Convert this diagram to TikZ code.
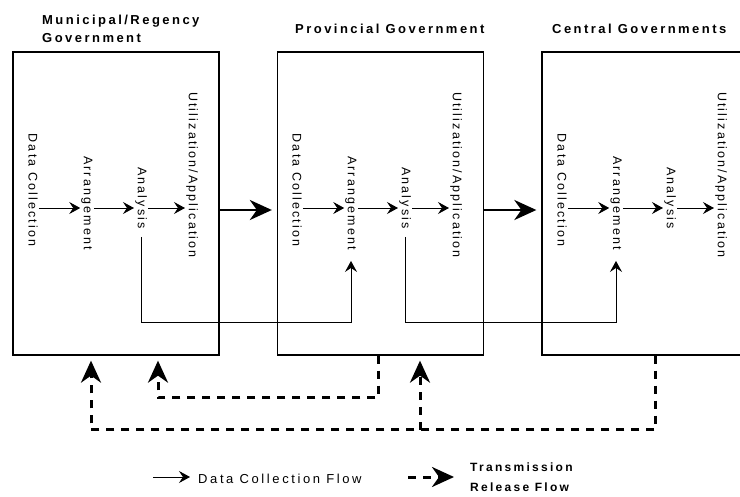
\documentclass[tikz,border=0pt]{standalone}
\usepackage{fontspec}
\setmainfont{Liberation Sans}
\newfontfamily\lblfont[LetterSpace=17]{Liberation Sans}
\newfontfamily\headfont[LetterSpace=19]{Liberation Sans}
\newfontfamily\legfont[LetterSpace=20]{Liberation Sans}
\usetikzlibrary{arrows.meta}

\begin{document}
\begin{tikzpicture}[x=1pt, y=-1pt,
    govbox/.style={draw, line width=1.3pt, minimum width=206pt, minimum height=303pt, inner sep=0pt},
    head/.style={font=\headfont\bfseries\fontsize{13}{18}\selectfont, align=left, inner sep=0pt},
    stage/.style={rotate=-90, font=\lblfont\fontsize{12.5}{12.5}\selectfont, inner sep=1pt},
    flow/.style={-{Stealth[length=11pt, width=12pt, inset=4pt]}, line width=0.8pt},
    bigflow/.style={-{Stealth[length=22pt, width=20pt, inset=7pt]}, line width=2.8pt},
    release/.style={-{Stealth[length=22pt, width=20pt, inset=7pt]}, line width=3pt, dash pattern=on 8pt off 7pt}]
    \useasboundingbox (0,0) rectangle (740,497);
    \clip (0,0) rectangle (740,497);

    % Ba cap chinh quyen
    \node[govbox] (mun)  at (116,203.5) {};
    \node[govbox] (prov) at (380.5,203.5) {};
    \node[govbox] (cen)  at (645,203.5) {};
    \node[head, anchor=north west] (munt) at (42,15) {Municipal/Regency\\Government};
    \node[head, anchor=base west] (provt) at (295,34) {Provincial Government};
    \node[head, anchor=base west] (cent) at (552,34) {Central Governments};

    % Cac buoc xu ly du lieu
    \coordinate (row) at (0,208);
    \foreach \i/\dx in {1/0, 2/264, 3/529} {
        \node[stage] (dc\i) at ({33+\dx},190) {Data Collection};
        \node[stage] (ar\i) at ({87+\dx},203) {Arrangement};
        \node[stage] (an\i) at ({141+\dx},198) {Analysis};
        \node[stage] (ut\i) at ({192+\dx},175) {Utilization/Application};
        \draw[flow] (dc\i.north |- row) -- (ar\i.south |- row);
        \draw[flow] (ar\i.north |- row) -- (an\i.south |- row);
        \draw[flow] (an\i.north |- row) -- (ut\i.south |- row);
    }

    % Luong thu thap du lieu giua cac cap
    \coordinate (mid) at (0,210);
    \draw[bigflow, shorten >=5pt] (mun.east |- mid) -- (prov.west |- mid);
    \draw[bigflow, shorten >=5pt] (prov.east |- mid) -- (cen.west |- mid);
    \coordinate (low) at (0,323);
    \draw[flow, line width=1pt, shorten <=7pt, shorten >=10pt] (an1.east) -- (an1.east |- low) -| (ar2.east);
    \draw[flow, line width=1pt, shorten <=7pt, shorten >=10pt] (an2.east) -- (an2.east |- low) -| (ar3.east);

    % Luong phan hoi (dut net)
    \coordinate (d1) at (0,398);
    \coordinate (d2) at (0,430);
    \coordinate (p1) at ([xshift=-2.5pt]prov.south);
    \coordinate (p2) at ([xshift=39.5pt]prov.south);
    \coordinate (m1) at ([xshift=42pt]mun.south);
    \coordinate (m2) at ([xshift=-25pt]mun.south);
    \coordinate (c1) at ([xshift=10pt]cen.south);
    \draw[release, shorten >=5pt] (p1) -- (p1 |- d1) -| (m1);
    \draw[release, shorten >=5pt] (c1) -- (c1 |- d2) -| (m2);
    \draw[release, shorten >=5pt] (p2 |- d2) -- (p2);

    % Chu thich
    \node[anchor=west, inner sep=0pt, font=\legfont\fontsize{13}{13}\selectfont] (lgd) at (198,479) {Data Collection Flow};
    \node[anchor=north west, inner sep=0pt, align=left, font=\headfont\bfseries\fontsize{12}{20}\selectfont] (lgt) at (470,463) {Transmission\\Release Flow};
    \coordinate (lgs) at (153,477);
    \coordinate (lgr) at (408,477);
    \draw[flow, shorten >=8pt] (lgs) -- (lgs -| lgd.west);
    \draw[release, shorten >=16pt] (lgr) -- (lgr -| lgt.west);
\end{tikzpicture}
\end{document}
